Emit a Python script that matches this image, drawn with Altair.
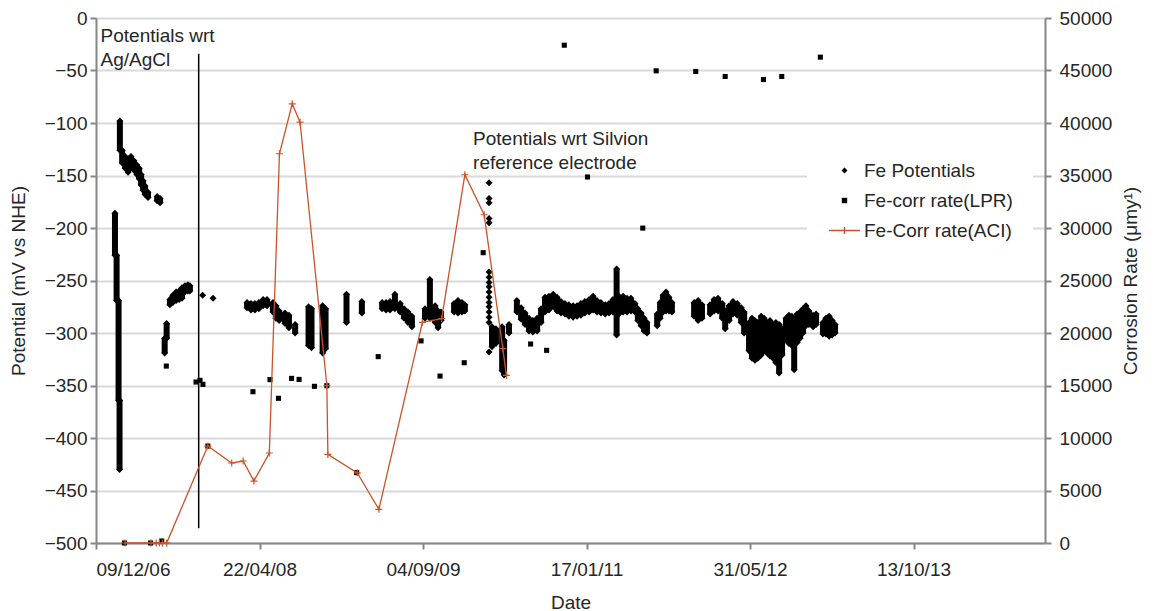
import altair as alt
import pandas as pd

# ---- data -----------------------------------------------------------------
# Dates are Excel serial day numbers (days since 1899-12-30).

# Fe potential record (mV vs NHE): for each logging day the highest and lowest
# reading; single readings have high == low.
pot_day = [
    39118, 39123, 39129, 39132,
    39133, 39140, 39149, 39158, 39167, 39176, 39185, 39192, 39198, 39204, 39210, 39219, 39247, 39256,
    39270, 39276,
    39286, 39295, 39305, 39314, 39323, 39332, 39341, 39347,
    39386, 39418,
    39522, 39534, 39546, 39558, 39571, 39583,
    39601, 39610, 39620, 39638, 39650, 39669, 39710, 39719, 39753, 39762, 39826, 39873,
    39935, 39947, 39959, 39974, 39990, 40002, 40014, 40026,
    40066, 40081, 40097, 40106, 40115, 40155, 40167, 40179, 40188,
    40262, 40262, 40262, 40262, 40262, 40262, 40262, 40262, 40262, 40262, 40262, 40262, 40262, 40262, 40262, 40262, 40262,
    40271, 40283, 40302, 40308, 40323,
    40347, 40360, 40372, 40384, 40396, 40409, 40421, 40433, 40445, 40458, 40470, 40482, 40494, 40506, 40519, 40531,
    40543, 40555, 40568, 40580, 40592, 40604, 40617, 40629, 40641, 40652, 40659, 40672, 40684, 40696, 40708, 40717,
    40727, 40736, 40745,
    40776, 40785, 40794, 40803, 40812, 40821,
    40889, 40901, 40913,
    40938, 40950, 40962, 40975, 40984, 40996, 41008, 41021, 41033, 41042,
    41057, 41066, 41075, 41084, 41094, 41103, 41112, 41121, 41130, 41139, 41149, 41158,
    41170, 41179, 41188, 41195, 41204, 41213, 41222, 41231, 41240, 41253, 41262,
    41283, 41292, 41302, 41311, 41320,
]
pot_high = [
    -186, -226, -269, -364,
    -98, -126, -132, -134, -132, -136, -140, -143, -149, -155, -160, -166, -170, -172,
    -305, -291,
    -268, -264, -261, -260, -257, -255, -254, -255,
    -264, -267,
    -271, -272, -272, -271, -268, -268,
    -271, -274, -279, -281, -283, -292, -275, -277, -274, -277, -263, -270,
    -271, -271, -270, -263, -272, -277, -280, -284,
    -277, -249, -274, -279, -280, -272, -269, -271, -273,
    -157, -172, -176, -191, -195, -242, -247, -252, -256, -261, -266, -271, -275, -280, -285, -290, -318,
    -294, -296, -294, -307, -292,
    -269, -276, -281, -286, -288, -286, -277, -266, -265, -263, -266, -270, -272, -273, -274, -274,
    -272, -270, -268, -265, -269, -271, -273, -272, -268, -239, -265, -265, -267, -267, -272, -277,
    -281, -286, -290,
    -282, -271, -264, -261, -266, -271,
    -271, -269, -273,
    -273, -268, -267, -272, -279, -274, -270, -272, -276, -280,
    -290, -286, -288, -290, -284, -286, -290, -288, -292, -290, -292, -296,
    -286, -283, -284, -288, -282, -280, -277, -274, -279, -283, -282,
    -290, -286, -284, -288, -292,
]
pot_low = [
    -226, -269, -364, -430,
    -126, -138, -143, -147, -141, -145, -149, -153, -159, -164, -168, -171, -174, -176,
    -319, -305,
    -273, -271, -269, -268, -267, -261, -260, -260,
    -264, -267,
    -276, -278, -278, -277, -274, -274,
    -280, -286, -288, -291, -295, -300, -312, -314, -319, -315, -290, -281,
    -277, -278, -278, -277, -280, -286, -290, -294,
    -286, -286, -290, -295, -288, -280, -281, -280, -279,
    -157, -172, -176, -191, -195, -242, -247, -252, -256, -261, -266, -271, -275, -280, -285, -290, -318,
    -313, -310, -336, -340, -300,
    -280, -287, -292, -298, -299, -298, -290, -280, -278, -275, -279, -281, -282, -284, -285, -284,
    -283, -281, -280, -278, -280, -281, -282, -281, -280, -302, -282, -280, -280, -279, -280, -288,
    -293, -298, -300,
    -293, -286, -280, -279, -279, -280,
    -284, -288, -286,
    -282, -279, -279, -286, -296, -288, -282, -283, -290, -300,
    -317, -324, -326, -324, -321, -317, -319, -322, -324, -328, -338, -321,
    -307, -310, -312, -335, -309, -305, -300, -293, -292, -294, -292,
    -301, -301, -303, -302, -300,
]

# Corrosion rate from linear polarisation resistance (um/y)
lpr_day = [39147, 39227, 39261, 39275, 39366, 39378, 39387, 39402, 39540, 39592, 39618, 39658,
           39681, 39728, 39766, 39857, 39923, 40054, 40112, 40186, 40244, 40389, 40438, 40492,
           40563, 40732, 40773, 40894, 40984, 41101, 41157, 41275]
lpr_rate = [0, 0, 190, 16850, 15330, 15490, 15110, 9230, 14410, 15560, 13780, 15680,
            15580, 14920, 14980, 6700, 17750, 19250, 15900, 17170, 27650, 18950, 18350, 47410,
            34860, 29990, 44970, 44910, 44430, 44140, 44430, 46270]

# Corrosion rate from the ACI sensor (um/y)
aci_day = [39149, 39228, 39244, 39254, 39263, 39276, 39402, 39475, 39510, 39543, 39590, 39621,
           39660, 39684, 39766, 39769, 39859, 39925, 40058, 40117, 40188, 40247, 40304, 40315]
aci_rate = [0, 0, 0, 0, 0, 0, 9230, 7620, 7810, 5900, 8570, 37070,
            41830, 40080, 14980, 8440, 6680, 3210, 21010, 21360, 35070, 31260, 18510, 15970]

# Reference electrode changed from Ag/AgCl to Silvion
ref_change_day = 39374
ref_change_span = [-34, -486]

date_ticks = [39060, 39560, 40060, 40560, 41060, 41560]
date_range = [39060, 41962]
mv_ticks = list(range(-500, 1, 50))
rate_ticks = list(range(0, 50001, 5000))

SERIES = ["Fe Potentials", "Fe-corr rate(LPR)", "Fe-Corr rate(ACI)"]

notes = pd.DataFrame({
    "day": [39074, 40213],
    "mV": [-23, -121],
    "label": [["Potentials wrt", "Ag/AgCl"], ["Potentials wrt Silvion", "reference electrode"]],
})

# ---- styling --------------------------------------------------------------
FONT = "Liberation Sans"
INK = "#262626"
AXIS_GREY = "#868686"
GRID = "#d9d9d9"
ACI_RED = "#cc5228"

DIAMOND = "M-1,0L0,-1L1,0L0,1Z"
SQUARE = "M-0.9,-0.9H0.9V0.9H-0.9Z"
LINE_CROSS = "M-5.2,-0.22H5.2V0.22H-5.2Z M-0.22,-1.2H0.22V1.2H-0.22Z"
CROSS = "M-1,0H1M0,-1V1"

# ---- frames ---------------------------------------------------------------
pot = pd.DataFrame({"day": pot_day, "high": pot_high, "low": pot_low})
pot_pts = pd.concat([
    pot[["day", "high"]].rename(columns={"high": "mV"}),
    pot[["day", "low"]].rename(columns={"low": "mV"}),
]).drop_duplicates()
pot_pts["series"] = SERIES[0]

lpr = pd.DataFrame({"day": lpr_day, "rate": lpr_rate, "series": SERIES[1]})
aci = pd.DataFrame({"day": aci_day, "rate": aci_rate})
ref = pd.DataFrame({"day": [ref_change_day], "top": [ref_change_span[0]], "bottom": [ref_change_span[1]]})

# ---- encodings ------------------------------------------------------------
x_axis = alt.Axis(
    values=date_ticks,
    labelExpr="utcFormat((datum.value - 25569) * 86400000, '%d/%m/%y')",
    title="Date", grid=False, labelPadding=11, titlePadding=14,
)
X = alt.X("day:Q", scale=alt.Scale(domain=date_range, nice=False, zero=False), axis=x_axis)

left_scale = alt.Scale(domain=[-500, 0], nice=False, zero=False)
left_axis = alt.Axis(values=mv_ticks, format="d", title="Potential (mV vs NHE)",
                     grid=True, labelPadding=3, titlePadding=16)

right_scale = alt.Scale(domain=[0, 50000], nice=False, zero=False)
right_axis = alt.Axis(values=rate_ticks, format="d", title="Corrosion Rate (μmy¹)", orient="right",
                      grid=False, labelPadding=8, titlePadding=10, titleAngle=270,
                      titleBaseline="top")

legend = alt.Legend(
    title=None, orient="none", legendX=711, legendY=123,
    fillColor="white", padding=20, symbolSize=36, symbolOffset=8, labelOffset=10,
    symbolStrokeWidth=0, rowPadding=10, labelFont=FONT, labelFontSize=19, labelColor=INK,
)
color_enc = alt.Color("series:N", scale=alt.Scale(domain=SERIES, range=["black", "black", ACI_RED]), legend=legend)
shape_enc = alt.Shape("series:N", scale=alt.Scale(domain=SERIES, range=[DIAMOND, SQUARE, LINE_CROSS]), legend=legend)

# ---- potentials (left axis) -----------------------------------------------
pot_bars = alt.Chart(pot).mark_rule(strokeWidth=6, color="black").encode(
    x=X, y=alt.Y("high:Q", scale=left_scale, axis=left_axis), y2="low:Q")

pot_marks = alt.Chart(pot_pts).mark_point(filled=True, size=49, opacity=1).encode(
    x=X, y=alt.Y("mV:Q", scale=left_scale, axis=left_axis), color=color_enc, shape=shape_enc)

ref_line = alt.Chart(ref).mark_rule(strokeWidth=1.5, color="black").encode(
    x=X, y=alt.Y("top:Q", scale=left_scale, axis=left_axis), y2="bottom:Q")

note_text = alt.Chart(notes).mark_text(
    align="left", baseline="alphabetic", font=FONT, fontSize=19, color=INK, lineHeight=24
).encode(x=X, y=alt.Y("mV:Q", scale=left_scale, axis=left_axis), text="label")

left = alt.layer(pot_bars, pot_marks, ref_line, note_text)

# ---- corrosion rates (right axis) -----------------------------------------
lpr_marks = alt.Chart(lpr).mark_point(filled=True, size=32, opacity=1).encode(
    x=X, y=alt.Y("rate:Q", scale=right_scale, axis=right_axis), color=color_enc, shape=shape_enc)

aci_line = alt.Chart(aci).mark_line(color=ACI_RED, strokeWidth=1.3).encode(
    x=X, y=alt.Y("rate:Q", scale=right_scale, axis=right_axis))

aci_marks = alt.Chart(aci).mark_point(shape=CROSS, size=49, color=ACI_RED, strokeWidth=1.2,
                                      filled=False, opacity=1).encode(
    x=X, y=alt.Y("rate:Q", scale=right_scale, axis=right_axis))

right = alt.layer(lpr_marks, aci_line, aci_marks)

chart = (
    alt.layer(left, right)
    .resolve_scale(y="independent")
    .properties(
        width=949, height=525,
        padding={"left": 96, "top": 18, "right": 109, "bottom": 68},
        autosize=alt.AutoSizeParams(type="none"),
        background="white",
    )
    .configure_view(stroke=None)
    .configure_axis(
        labelFont=FONT, labelFontSize=19, labelColor=INK,
        titleFont=FONT, titleFontSize=19, titleFontWeight="normal", titleColor=INK,
        domainColor=AXIS_GREY, domainWidth=2, tickColor=AXIS_GREY, tickWidth=2, tickSize=6,
        gridColor=GRID, gridWidth=2,
    )
)

chart.save("out.html", embed_options={"renderer": "svg", "actions": False})
